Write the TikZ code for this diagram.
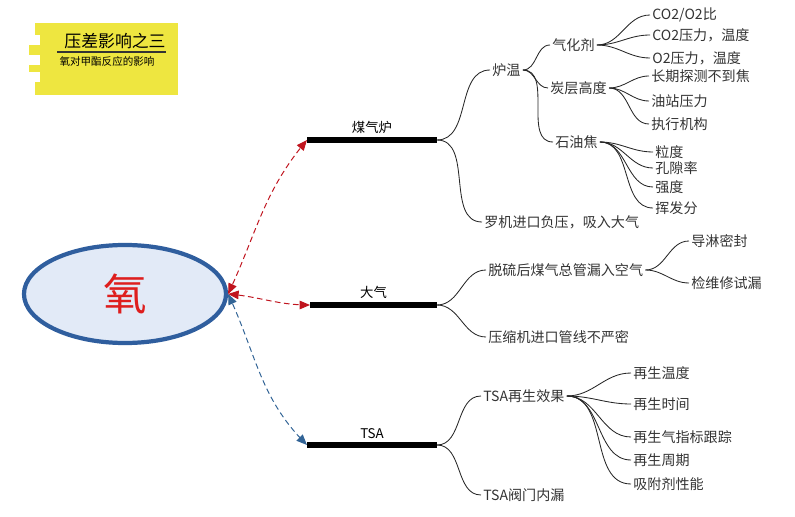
\documentclass[tikz,border=0pt]{standalone}
\usepackage{fontspec}
\setmainfont{Noto Sans CJK SC}
\usetikzlibrary{shapes,arrows,positioning}
\definecolor{titleyellow}{RGB}{238,230,64}
\definecolor{ellblue}{RGB}{47,94,158}
\definecolor{ellfill}{RGB}{226,234,247}
\definecolor{oxred}{RGB}{222,30,30}
\definecolor{linkred}{RGB}{192,20,30}
\definecolor{linkblue}{RGB}{50,100,150}
\tikzstyle{leaf} = [anchor=west, inner sep=1.5pt, font=\fontsize{10}{12}\selectfont, text=black!80]
\tikzstyle{twig} = [draw=black!85, line width=0.6pt, out=0, in=180]
\tikzstyle{branch} = [line width=3.6pt, black]
\tikzstyle{branchlabel} = [above, inner sep=3pt, font=\fontsize{9.5}{11}\selectfont]
\tikzstyle{redlink} = [draw=linkred, line width=0.7pt, dash pattern=on 4pt off 2.5pt, triangle 45-triangle 45]
\tikzstyle{bluelink} = [draw=linkblue, line width=0.7pt, dash pattern=on 4pt off 2.5pt, triangle 45-triangle 45]
\begin{document}
\begin{tikzpicture}[x=0.025cm, y=-0.025cm]
\useasboundingbox (0,0) rectangle (795,517);
% title card
\fill[titleyellow] (35,23) rectangle (178,95);
\fill[titleyellow] (29,45) rectangle (35,55);
\fill[titleyellow] (29,65) rectangle (35,72);
\foreach \y in {35,55,72} \fill[white] (29,\y) rectangle (40,\y+10);
\node (title) at (115,41) {\fontsize{12}{14}\selectfont 压差影响之三};
\draw[black!80, line width=0.8pt] (57,52) -- (166,52);
\node (subtitle) at (107,61) {\fontsize{7.5}{9}\selectfont 氧对甲酯反应的影响};

% center
\node[ellipse, draw=ellblue, line width=3pt, fill=ellfill, minimum width=5.05cm, minimum height=2.45cm] (o) at (125,294) {};
\node[text=oxred, font=\fontsize{31}{31}\selectfont] (ox) at (o.center) {氧};

% main branches
\coordinate (mq0) at (307,140); \coordinate (mq1) at (437,140);
\coordinate (dq0) at (310,305); \coordinate (dq1) at (437,305);
\coordinate (ts0) at (307,445); \coordinate (ts1) at (437,445);
\draw[branch] (mq0) -- node[branchlabel] (mqlabel) {煤气炉} (mq1);
\draw[branch] (dq0) -- node[branchlabel] (dqlabel) {大气} (dq1);
\draw[branch] (ts0) -- node[branchlabel] (tslabel) {TSA} (ts1);

\draw[redlink] (o.east) to[out=65, in=230] (mq0);
\draw[redlink] (o.east) to[out=-5, in=180] (dq0);
\draw[bluelink] (o.east) to[out=-65, in=135] (ts0);

% 煤气炉
\node[leaf] (lw) at (490,70) {炉温};
\node[leaf] (ljfy) at (482,222) {罗机进口负压，吸入大气};
\node[leaf] (qhj) at (550,45) {气化剂};
\node[leaf] (tcgd) at (548,88) {炭层高度};
\node[leaf] (syj) at (553,142) {石油焦};
\node[leaf] (cob) at (650,15) {CO2/O2比};
\node[leaf] (coy) at (650,35) {CO2压力，温度};
\node[leaf] (oy) at (650,58) {O2压力，温度};
\node[leaf] (cqtc) at (649,76) {长期探测不到焦};
\node[leaf] (yzyl) at (649,101) {油站压力};
\node[leaf] (zxjg) at (649,124) {执行机构};
\node[leaf] (ld) at (653,152) {粒度};
\node[leaf] (kxl) at (653,168) {孔隙率};
\node[leaf] (qd) at (653,187) {强度};
\node[leaf] (hff) at (653,208) {挥发分};
\draw[twig] (mq1) to (lw.west);
\draw[twig] (mq1) to (ljfy.west);
\foreach \c in {qhj,tcgd,syj} \draw[twig] (lw.east) to (\c.west);
\foreach \c in {cob,coy,oy} \draw[twig] (qhj.east) to (\c.west);
\foreach \c in {cqtc,yzyl,zxjg} \draw[twig] (tcgd.east) to (\c.west);
\foreach \c in {ld,kxl,qd,hff} \draw[twig] (syj.east) to (\c.west);

% 大气
\node[leaf] (tl) at (486,270) {脱硫后煤气总管漏入空气};
\node[leaf] (ysj) at (486,337) {压缩机进口管线不严密};
\node[leaf] (dlmf) at (689,241) {导淋密封};
\node[leaf] (jwx) at (689,283) {检维修试漏};
\draw[twig] (dq1) to (tl.west);
\draw[twig] (dq1) to (ysj.west);
\foreach \c in {dlmf,jwx} \draw[twig] (tl.east) to (\c.west);

% TSA
\node[leaf] (zsxg) at (481,396) {TSA再生效果};
\node[leaf] (fmnl) at (481,495) {TSA阀门内漏};
\node[leaf] (zswd) at (631,373) {再生温度};
\node[leaf] (zssj) at (631,404) {再生时间};
\node[leaf] (zsq) at (631,437) {再生气指标跟踪};
\node[leaf] (zszq) at (631,460) {再生周期};
\node[leaf] (xfj) at (631,484) {吸附剂性能};
\draw[twig] (ts1) to (zsxg.west);
\draw[twig] (ts1) to (fmnl.west);
\foreach \c in {zswd,zssj,zsq,zszq,xfj} \draw[twig] (zsxg.east) to (\c.west);
\end{tikzpicture}
\end{document}
